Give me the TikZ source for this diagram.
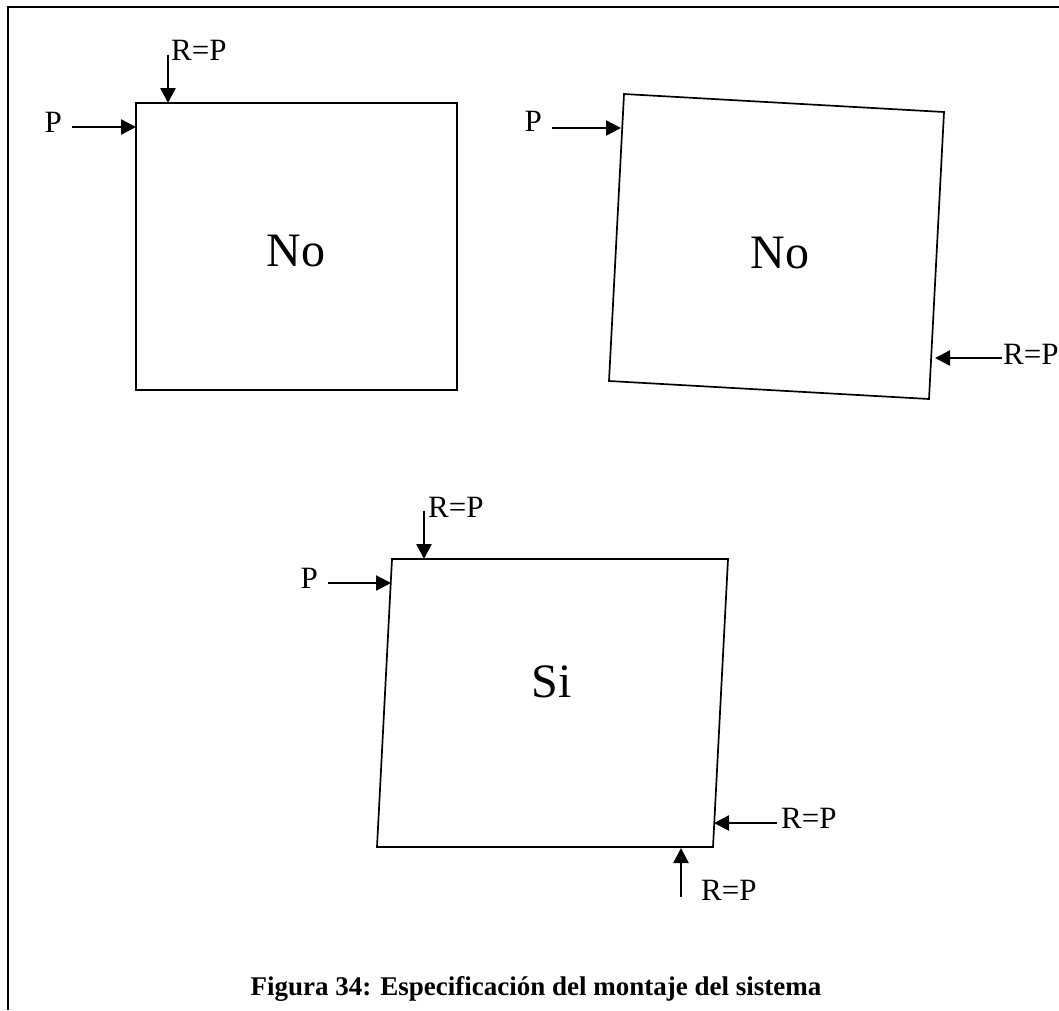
\documentclass[tikz,border=0pt]{standalone}
\usepackage{fontspec}
\setmainfont{Liberation Serif}
\usetikzlibrary{positioning,arrows.meta}

\begin{document}
\begin{tikzpicture}[x=1pt, y=-1pt,
    frm/.style={draw, line width=2pt},
    box/.style={draw, line width=1.7pt},
    arr/.style={-{Triangle[length=15pt, width=15pt]}, line width=2.5pt},
    lbl/.style={font=\fontsize{31}{37}\selectfont, inner sep=0pt},
    big/.style={font=\fontsize{48}{58}\selectfont, inner sep=0pt},
    cpt/.style={font=\fontsize{27}{32}\selectfont\bfseries, inner sep=0pt}
  ]
  \useasboundingbox (0,0) rectangle (1059,1010);
  \draw[frm] (8,1010) -- (8,7) -- (1059,7);

  % upper left: square
  \coordinate (a1) at (136,103);
  \coordinate (a2) at (457,103);
  \coordinate (a3) at (457,390);
  \coordinate (a4) at (136,390);
  \draw[box] (a1) -- (a2) -- (a3) -- (a4) -- cycle;
  \node[big, anchor=base] (ano) at (296,266) {No};

  \coordinate (ap0) at (72,127);
  \coordinate (ap1) at (136,127);
  \node[lbl, anchor=base east] (apl) at (62,132) {P};
  \draw[arr] (ap0) -- (ap1);
  \coordinate (ar0) at (168,55);
  \coordinate (ar1) at (168,103);
  \node[lbl, anchor=base west] (arl) at (171,60) {R=P};
  \draw[arr] (ar0) -- (ar1);

  % upper right: rotated
  \coordinate (b1) at (624,94);
  \coordinate (b2) at (944,112);
  \coordinate (b3) at (929,399);
  \coordinate (b4) at (609,381);
  \draw[box] (b1) -- (b2) -- (b3) -- (b4) -- cycle;
  \node[big, anchor=base] (bno) at (780,268) {No};

  \coordinate (bp0) at (552,128);
  \coordinate (bp1) at (621,128);
  \node[lbl, anchor=base east] (bpl) at (542,131) {P};
  \draw[arr] (bp0) -- (bp1);
  \coordinate (br0) at (1002,358);
  \coordinate (br1) at (935,358);
  \node[lbl, anchor=base west] (brl) at (1003,364) {R=P};
  \draw[arr] (br0) -- (br1);

  % bottom: sheared
  \coordinate (c1) at (392,559);
  \coordinate (c2) at (728,559);
  \coordinate (c3) at (713,847);
  \coordinate (c4) at (377,847);
  \draw[box] (c1) -- (c2) -- (c3) -- (c4) -- cycle;
  \node[big, anchor=base] (csi) at (552,697) {Si};

  \coordinate (cp0) at (328,583);
  \coordinate (cp1) at (391,583);
  \node[lbl, anchor=base east] (cpl) at (318,588) {P};
  \draw[arr] (cp0) -- (cp1);
  \coordinate (ct0) at (424,511);
  \coordinate (ct1) at (424,559);
  \node[lbl, anchor=base west] (ctl) at (428,517) {R=P};
  \draw[arr] (ct0) -- (ct1);
  \coordinate (cr0) at (777,823);
  \coordinate (cr1) at (714,823);
  \node[lbl, anchor=base west] (crl) at (781,828) {R=P};
  \draw[arr] (cr0) -- (cr1);
  \coordinate (cb0) at (681,897);
  \coordinate (cb1) at (681,848);
  \node[lbl, anchor=base west] (cbl) at (701,900) {R=P};
  \draw[arr] (cb0) -- (cb1);

  \node[cpt, anchor=base] (caption) at (536,995) {Figura 34: Especificación del montaje del sistema};
\end{tikzpicture}
\end{document}
